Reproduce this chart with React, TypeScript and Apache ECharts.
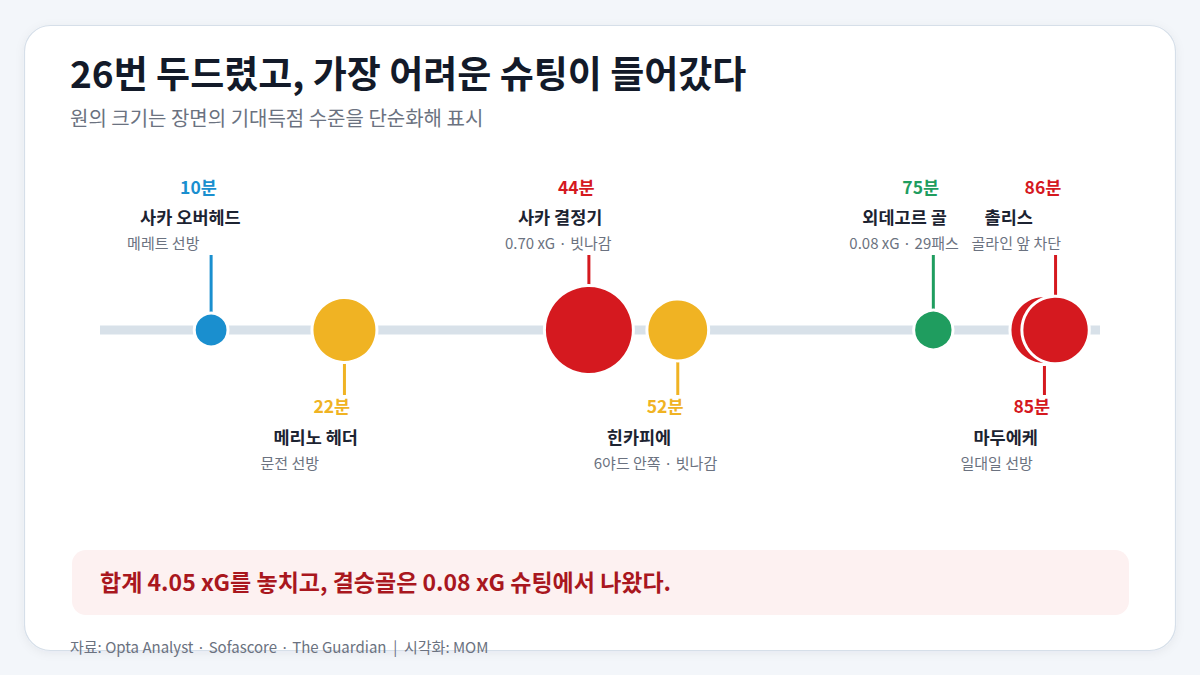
import React, { useEffect, useRef } from "react";
import * as echarts from "echarts";

// ---------- data ----------
const minutes = [10, 22, 44, 52, 75, 85, 86];
const minuteLabels = ["10분", "22분", "44분", "52분", "75분", "85분", "86분"];
const players = ["사카 오버헤드", "메리노 헤더", "사카 결정기", "힌카피에", "외데고르 골", "마두에케", "촐리스"];
const details = ["메레트 선방", "문전 선방", "0.70 xG · 빗나감", "6야드 안쪽 · 빗나감", "0.08 xG · 29패스", "일대일 선방", "골라인 앞 차단"];
// simplified chance level (drives circle size)
const chanceLevel = [0.01, 0.4, 0.7, 0.36, 0.08, 0.45, 0.43];
const eventKind = ["early", "medium", "big", "medium", "goal", "big", "big"];
const labelSide = ["up", "down", "up", "down", "up", "down", "up"];
const axisRange = [0, 90];

const titleText = "26번 두드렸고, 가장 어려운 슈팅이 들어갔다";
const subtitleText = "원의 크기는 장면의 기대득점 수준을 단순화해 표시";
const calloutText = "합계 4.05 xG를 놓치고, 결승골은 0.08 xG 슈팅에서 나왔다.";
const footerText = "자료: Opta Analyst · Sofascore · The Guardian  |  시각화: MOM";

// ---------- styles ----------
const FONT = "'Noto Sans CJK KR', 'Noto Sans', sans-serif";
const kindColor: Record<string, string> = {
  early: "#1a8fcf",
  medium: "#f0b323",
  big: "#d5191f",
  goal: "#1f9d5f",
};
const radiusOf = (v: number) => 15 + 40 * v;

function txt(x: number, y: number, text: string, font: string, fill: string, z = 10) {
  return {
    type: "text",
    x,
    y,
    z,
    silent: true,
    style: {
      text,
      font,
      fill,
      align: "left",
      textAlign: "left",
      verticalAlign: "middle",
      textVerticalAlign: "middle",
    },
  };
}

export default function App() {
  const ref = useRef<HTMLDivElement>(null);
  useEffect(() => {
    document.body.style.margin = "0";
    if (!ref.current) return;
    const chart = echarts.init(ref.current, undefined, { renderer: "svg" });

    const option: any = {
      animation: false,
      backgroundColor: "#f3f6fa",
      grid: { left: 100, right: 100, top: 320, height: 20 },
      xAxis: { type: "value", min: axisRange[0], max: axisRange[1], show: false },
      yAxis: { type: "value", min: -1, max: 1, show: false },
      graphic: [
        {
          type: "rect",
          z: -10,
          shape: { x: 24.5, y: 25.5, width: 1151, height: 625, r: 26 },
          style: {
            fill: "#ffffff",
            stroke: "#d6dfe9",
            lineWidth: 1.2,
            shadowBlur: 10,
            shadowColor: "rgba(30,50,80,0.06)",
            shadowOffsetY: 2,
          },
          silent: true,
        },
        txt(70, 72, titleText, `bold 37px ${FONT}`, "#131a29"),
        txt(70, 117, subtitleText, `20px ${FONT}`, "#6b7280"),
        {
          type: "rect",
          z: 5,
          silent: true,
          shape: { x: 72, y: 550, width: 1057, height: 65, r: 14 },
          style: { fill: "#fdf1f1" },
        },
        txt(100, 581, calloutText, `bold 23px ${FONT}`, "#a9171e"),
        txt(70, 646, footerText, `15px ${FONT}`, "#6b7280"),
      ],
      series: [
        {
          type: "line",
          z: 1,
          silent: true,
          symbol: "none",
          data: [
            [axisRange[0], 0],
            [axisRange[1], 0],
          ],
          lineStyle: { color: "#d8e1e9", width: 9, cap: "butt" },
        },
        {
          type: "custom",
          z: 2,
          silent: true,
          data: minutes.map((m) => [m, 0]),
          renderItem: (params: any, api: any) => {
            const i = params.dataIndex;
            const pt = api.coord([api.value(0), 0]);
            const cx = pt[0];
            const cy = pt[1];
            const up = labelSide[i] === "up";
            const color = kindColor[eventKind[i]];
            const stemEnd = up ? cy - 75 : cy + 65;
            const yMin = up ? cy - 144 : cy + 75;
            const yName = up ? cy - 114 : cy + 106;
            const yDet = up ? cy - 88 : cy + 132;
            return {
              type: "group",
              children: [
                {
                  type: "line",
                  shape: { x1: cx, y1: cy, x2: cx, y2: stemEnd },
                  style: { stroke: color, lineWidth: 3 },
                },
                txt(cx - 31, yMin, minuteLabels[i], `bold 17.5px ${FONT}`, color),
                txt(cx - 71, yName, players[i], `bold 17.5px ${FONT}`, "#1c2331"),
                txt(cx - 84, yDet, details[i], `15px ${FONT}`, "#6b7280"),
              ],
            };
          },
        },
        {
          type: "scatter",
          z: 3,
          silent: true,
          data: minutes.map((m, i) => ({
            value: [m, 0],
            symbolSize: 2 * radiusOf(chanceLevel[i]) + 3,
            itemStyle: {
              color: kindColor[eventKind[i]],
              borderColor: "#ffffff",
              borderWidth: 3,
              opacity: 1,
            },
          })),
        },
      ],
    };
    chart.setOption(option);
    return () => chart.dispose();
  }, []);
  return <div ref={ref} style={{ width: 1200, height: 675 }} />;
}
